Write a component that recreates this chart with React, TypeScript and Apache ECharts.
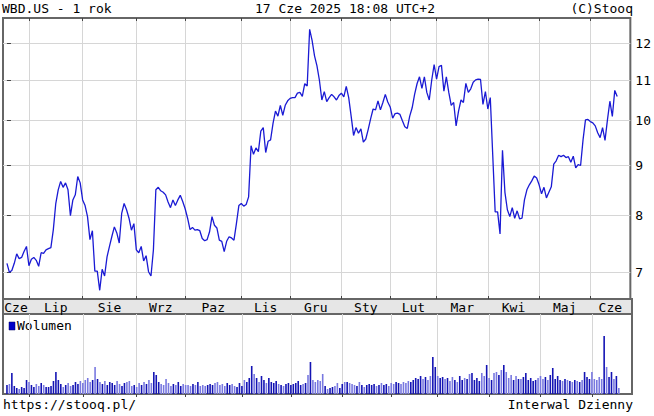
import React, { useEffect, useRef } from "react";
import * as echarts from "echarts";

// ---- data ----
const monthNames = ["Cze", "Lip", "Sie", "Wrz", "Paz", "Lis", "Gru", "Sty", "Lut", "Mar", "Kwi", "Maj", "Cze"];
const tradingDaysPerMonth = [9, 22, 22, 20, 23, 20, 21, 20, 19, 21, 21, 21, 12];
const priceTicks = [7, 8, 9, 10, 11, 12];

const closePrices = [
  7.15, 7.0, 7.03, 7.15, 7.31, 7.23, 7.25, 7.35, 7.44,
  7.11,
  7.22, 7.25, 7.2, 7.1, 7.33, 7.32, 7.38, 7.4, 7.42,
  7.74, 8.23, 8.5, 8.67, 8.55, 8.64, 8.5, 8.0, 8.3, 8.4,
  8.77, 8.64, 8.3, 8.19, 7.98, 7.56, 7.72, 7.02, 7.02, 6.71,
  7.05, 6.94, 7.26, 7.44, 7.62, 7.79, 7.68, 7.5, 8.04, 8.23,
  8.11, 7.95, 7.73, 7.85, 7.38, 7.33, 7.44, 7.19, 7.28, 7.01,
  6.94, 7.38, 8.5, 8.55, 8.48, 8.45, 8.4, 8.26, 8.15, 8.3,
  8.19, 8.3, 8.39, 8.27, 8.13, 7.95, 7.74, 7.78, 7.73, 7.74,
  7.72, 7.58, 7.54, 7.56, 7.7, 7.98, 7.82, 7.77, 7.55, 7.53,
  7.35, 7.53, 7.61, 7.59, 7.55, 7.85, 8.19, 8.23, 8.18, 8.21,
  8.36, 9.43, 9.24, 9.38, 9.3, 9.76, 9.84, 9.28, 9.53, 9.56,
  9.94, 10.23, 10.11, 10.37, 10.13, 10.37, 10.48, 10.54, 10.56, 10.56,
  10.67, 10.69, 10.59, 10.91, 10.85, 12.4, 12.08, 11.65, 11.38, 11.0,
  10.5, 10.71, 10.46, 10.56, 10.64, 10.58, 10.5, 10.61, 10.67, 10.58,
  10.84, 10.56, 10.11, 9.66, 9.84, 9.71, 9.81, 9.51, 9.58, 9.8,
  10.05, 10.28, 10.26, 10.48, 10.26, 10.44, 10.64, 10.45, 10.33, 10.06,
  10.17, 10.18, 10.15, 10.0, 9.86, 9.82, 10.11, 10.31, 10.64, 10.91,
  11.09, 10.79, 11.09, 10.69, 10.5, 11.0, 11.41, 11.03, 11.36, 11.39,
  10.72, 11.09, 10.69, 10.37, 10.44, 9.88, 10.23, 10.5, 10.44, 10.92,
  10.69, 10.78, 10.95, 11.01, 11.03, 11.02, 10.39, 10.71, 10.28, 10.56,
  9.23, 8.07, 8.07, 7.66, 9.33, 8.45, 8.11, 7.98, 8.15, 7.95,
  8.09, 7.94, 7.95, 8.3, 8.5, 8.6, 8.68, 8.78, 8.74, 8.6,
  8.42, 8.55, 8.34, 8.45, 8.56, 9.03, 9.1, 9.22, 9.19, 9.22,
  9.17, 9.19, 9.07, 9.2, 8.95, 9.02, 9.0,
  9.56, 10.02, 10.03, 9.98, 9.95, 9.88, 9.72, 9.61, 9.84, 9.55, 10.02, 10.47, 10.1, 10.74, 10.59,
];

// volume, millions of shares (estimated)
const volumes = [
  27, 30, 63, 24, 18, 15, 21, 18, 42, 36,
  27, 21, 30, 24, 33, 27, 21, 21, 24, 39,
  66, 42, 30, 21, 27, 33, 24, 27, 36, 30,
  39, 33, 42, 48, 36, 42, 81, 45, 36, 30,
  39, 27, 36, 33, 27, 39, 30, 24, 33, 36,
  39, 24, 27, 21, 33, 27, 36, 30, 42, 33,
  66, 57, 36, 30, 27, 45, 33, 24, 30, 27,
  36, 24, 30, 27, 27, 24, 30, 27, 36, 24,
  27, 24, 27, 30, 27, 33, 36, 27, 30, 24,
  33, 27, 30, 24, 21, 33, 24, 42, 36, 48,
  84, 60, 48, 36, 54, 42, 33, 48, 36, 33,
  39, 30, 27, 24, 30, 33, 27, 30, 33, 39,
  27, 30, 33, 57, 96, 42, 36, 42, 39, 60,
  24, 15, 18, 21, 24, 33, 18, 30, 36, 36,
  33, 30, 27, 24, 36, 27, 21, 27, 30, 27,
  30, 24, 27, 33, 27, 30, 24, 33, 30, 36,
  33, 30, 36, 33, 39, 36, 42, 48, 45, 54,
  45, 51, 42, 54, 111, 81, 54, 48, 51, 45,
  48, 39, 51, 42, 36, 54, 42, 48, 45, 60,
  63, 42, 48, 39, 63, 54, 87, 48, 42, 63,
  66, 57, 72, 87, 66, 48, 57, 42, 54, 45,
  45, 51, 63, 42, 48, 39, 42, 48, 54, 45,
  51, 42, 57, 78, 45, 54, 42, 39, 45, 42,
  39, 36, 42, 39, 36, 42, 66, 51, 45, 66,
  45, 42, 51, 45, 174, 81, 51, 66, 45, 54, 18,
];

const FONT = '"DejaVu Sans Mono", monospace';
const X_MIN = -1.62;
const X_MAX = 255.38;

export default function App() {
  const ref = useRef<HTMLDivElement>(null);

  useEffect(() => {
    if (!ref.current) return;
    const chart = echarts.init(ref.current, null, { renderer: "svg" });

    const monthStarts: number[] = [];
    let acc = 0;
    for (const n of tradingDaysPerMonth) {
      monthStarts.push(acc);
      acc += n;
    }
    const gridPositions = monthStarts.slice(1);
    const labelPositions = monthStarts.map((s, i) => {
      const a = i === 0 ? X_MIN : s;
      const b = i === monthStarts.length - 1 ? X_MAX : monthStarts[i + 1];
      return (a + b) / 2;
    });
    const monthLabel = (v: number) => {
      let best = 0;
      for (let i = 0; i < labelPositions.length; i++) {
        if (Math.abs(labelPositions[i] - v) < Math.abs(labelPositions[best] - v)) best = i;
      }
      return monthNames[best];
    };

    const priceData = closePrices.map((v, i) => [i, v]);
    const volData = volumes.map((v, i) => ({
      value: [i, v],
      itemStyle: { color: i > 0 && closePrices[i] < closePrices[i - 1] ? "#7878e0" : "#1414b4" },
    }));

    const gridLine = { color: "#d6d6d6", width: 1 };
    const tickLine = { color: "#444", width: 1 };

    chart.setOption({
      animation: false,
      backgroundColor: "#ffffff",
      grid: [
        { left: 3, top: 18, width: 629, height: 281, show: true, borderColor: "#666", borderWidth: 2, backgroundColor: "transparent" },
        { left: 3, top: 314, width: 629, height: 80, show: true, borderColor: "#666", borderWidth: 2, backgroundColor: "transparent" },
      ],
      xAxis: [
        {
          type: "value", gridIndex: 0, min: X_MIN, max: X_MAX, position: "bottom",
          axisLine: { show: false },
          axisTick: { show: true, inside: true, length: 3, customValues: gridPositions, lineStyle: tickLine },
          axisLabel: { show: true, customValues: labelPositions, formatter: monthLabel, margin: 2, color: "#000", fontFamily: FONT, fontSize: 13 },
          splitLine: { show: true, lineStyle: gridLine },
        },
        {
          type: "value", gridIndex: 0, min: X_MIN, max: X_MAX, position: "top",
          axisLine: { show: false },
          axisTick: { show: true, inside: true, length: 3, customValues: gridPositions, lineStyle: tickLine },
          axisLabel: { show: false },
          splitLine: { show: false },
        },
        {
          type: "value", gridIndex: 1, min: X_MIN, max: X_MAX, position: "top",
          axisLine: { show: false },
          axisTick: { show: true, inside: true, length: 3, customValues: gridPositions, lineStyle: tickLine },
          axisLabel: { show: false },
          splitLine: { show: true, lineStyle: gridLine },
        },
      ],
      yAxis: [
        {
          type: "log", logBase: 10, gridIndex: 0, min: 6.574, max: 12.735, position: "right",
          axisLine: { show: false },
          axisTick: { show: true, inside: false, length: 4, customValues: priceTicks, lineStyle: tickLine },
          axisLabel: { show: true, customValues: priceTicks, formatter: (v: number) => String(Math.round(v)), margin: 5, color: "#000", fontFamily: FONT, fontSize: 13 },
          splitLine: { show: true, lineStyle: gridLine },
        },
        {
          type: "log", logBase: 10, gridIndex: 0, min: 6.574, max: 12.735, position: "left",
          axisLine: { show: false },
          axisTick: { show: true, inside: true, length: 3, customValues: priceTicks, lineStyle: tickLine },
          axisLabel: { show: false },
          splitLine: { show: false },
        },
        {
          type: "value", gridIndex: 1, min: 0, max: 240,
          axisLine: { show: false }, axisTick: { show: false }, axisLabel: { show: false }, splitLine: { show: false },
        },
      ],
      series: [
        {
          name: "WBD.US",
          type: "line",
          xAxisIndex: 0,
          yAxisIndex: 0,
          data: priceData,
          showSymbol: false,
          symbol: "none",
          lineStyle: { color: "#1a1ad4", width: 1.3 },
          z: 5,
        },
        {
          name: "Wolumen",
          type: "bar",
          xAxisIndex: 2,
          yAxisIndex: 2,
          data: volData,
          barWidth: 1.6,
          itemStyle: { color: "#1414b4" },
        },
      ],
      graphic: [
        { type: "rect", z: -1, shape: { x: 3, y: 299, width: 629, height: 15 }, style: { fill: "#e6e6e6", stroke: "#666", lineWidth: 2 } },
        { type: "text", x: 2, y: 2, style: { text: "WBD.US - 1 rok", font: `13px ${FONT}`, fill: "#000" } },
        { type: "text", x: 345, y: 2, style: { text: "17 Cze 2025 18:08 UTC+2", font: `13px ${FONT}`, fill: "#000", textAlign: "center" } },
        { type: "text", x: 633, y: 2, style: { text: "(C)Stooq", font: `13px ${FONT}`, fill: "#000", textAlign: "right" } },
        { type: "rect", shape: { x: 9, y: 322, width: 6, height: 8 }, style: { fill: "#0000c8", stroke: "#000060", lineWidth: 0.5 } },
        { type: "text", x: 17, y: 319, style: { text: "Wolumen", font: `13px ${FONT}`, fill: "#000" } },
        { type: "text", x: 3, y: 398, style: { text: "https://stooq.pl/", font: `13px ${FONT}`, fill: "#000" } },
        { type: "text", x: 633, y: 398, style: { text: "Interwal Dzienny", font: `13px ${FONT}`, fill: "#000", textAlign: "right" } },
      ],
    });

    return () => chart.dispose();
  }, []);

  return (
    <div
      ref={ref}
      style={{ position: "fixed", left: 0, top: 0, width: 654, height: 416, background: "#fff" }}
    />
  );
}
